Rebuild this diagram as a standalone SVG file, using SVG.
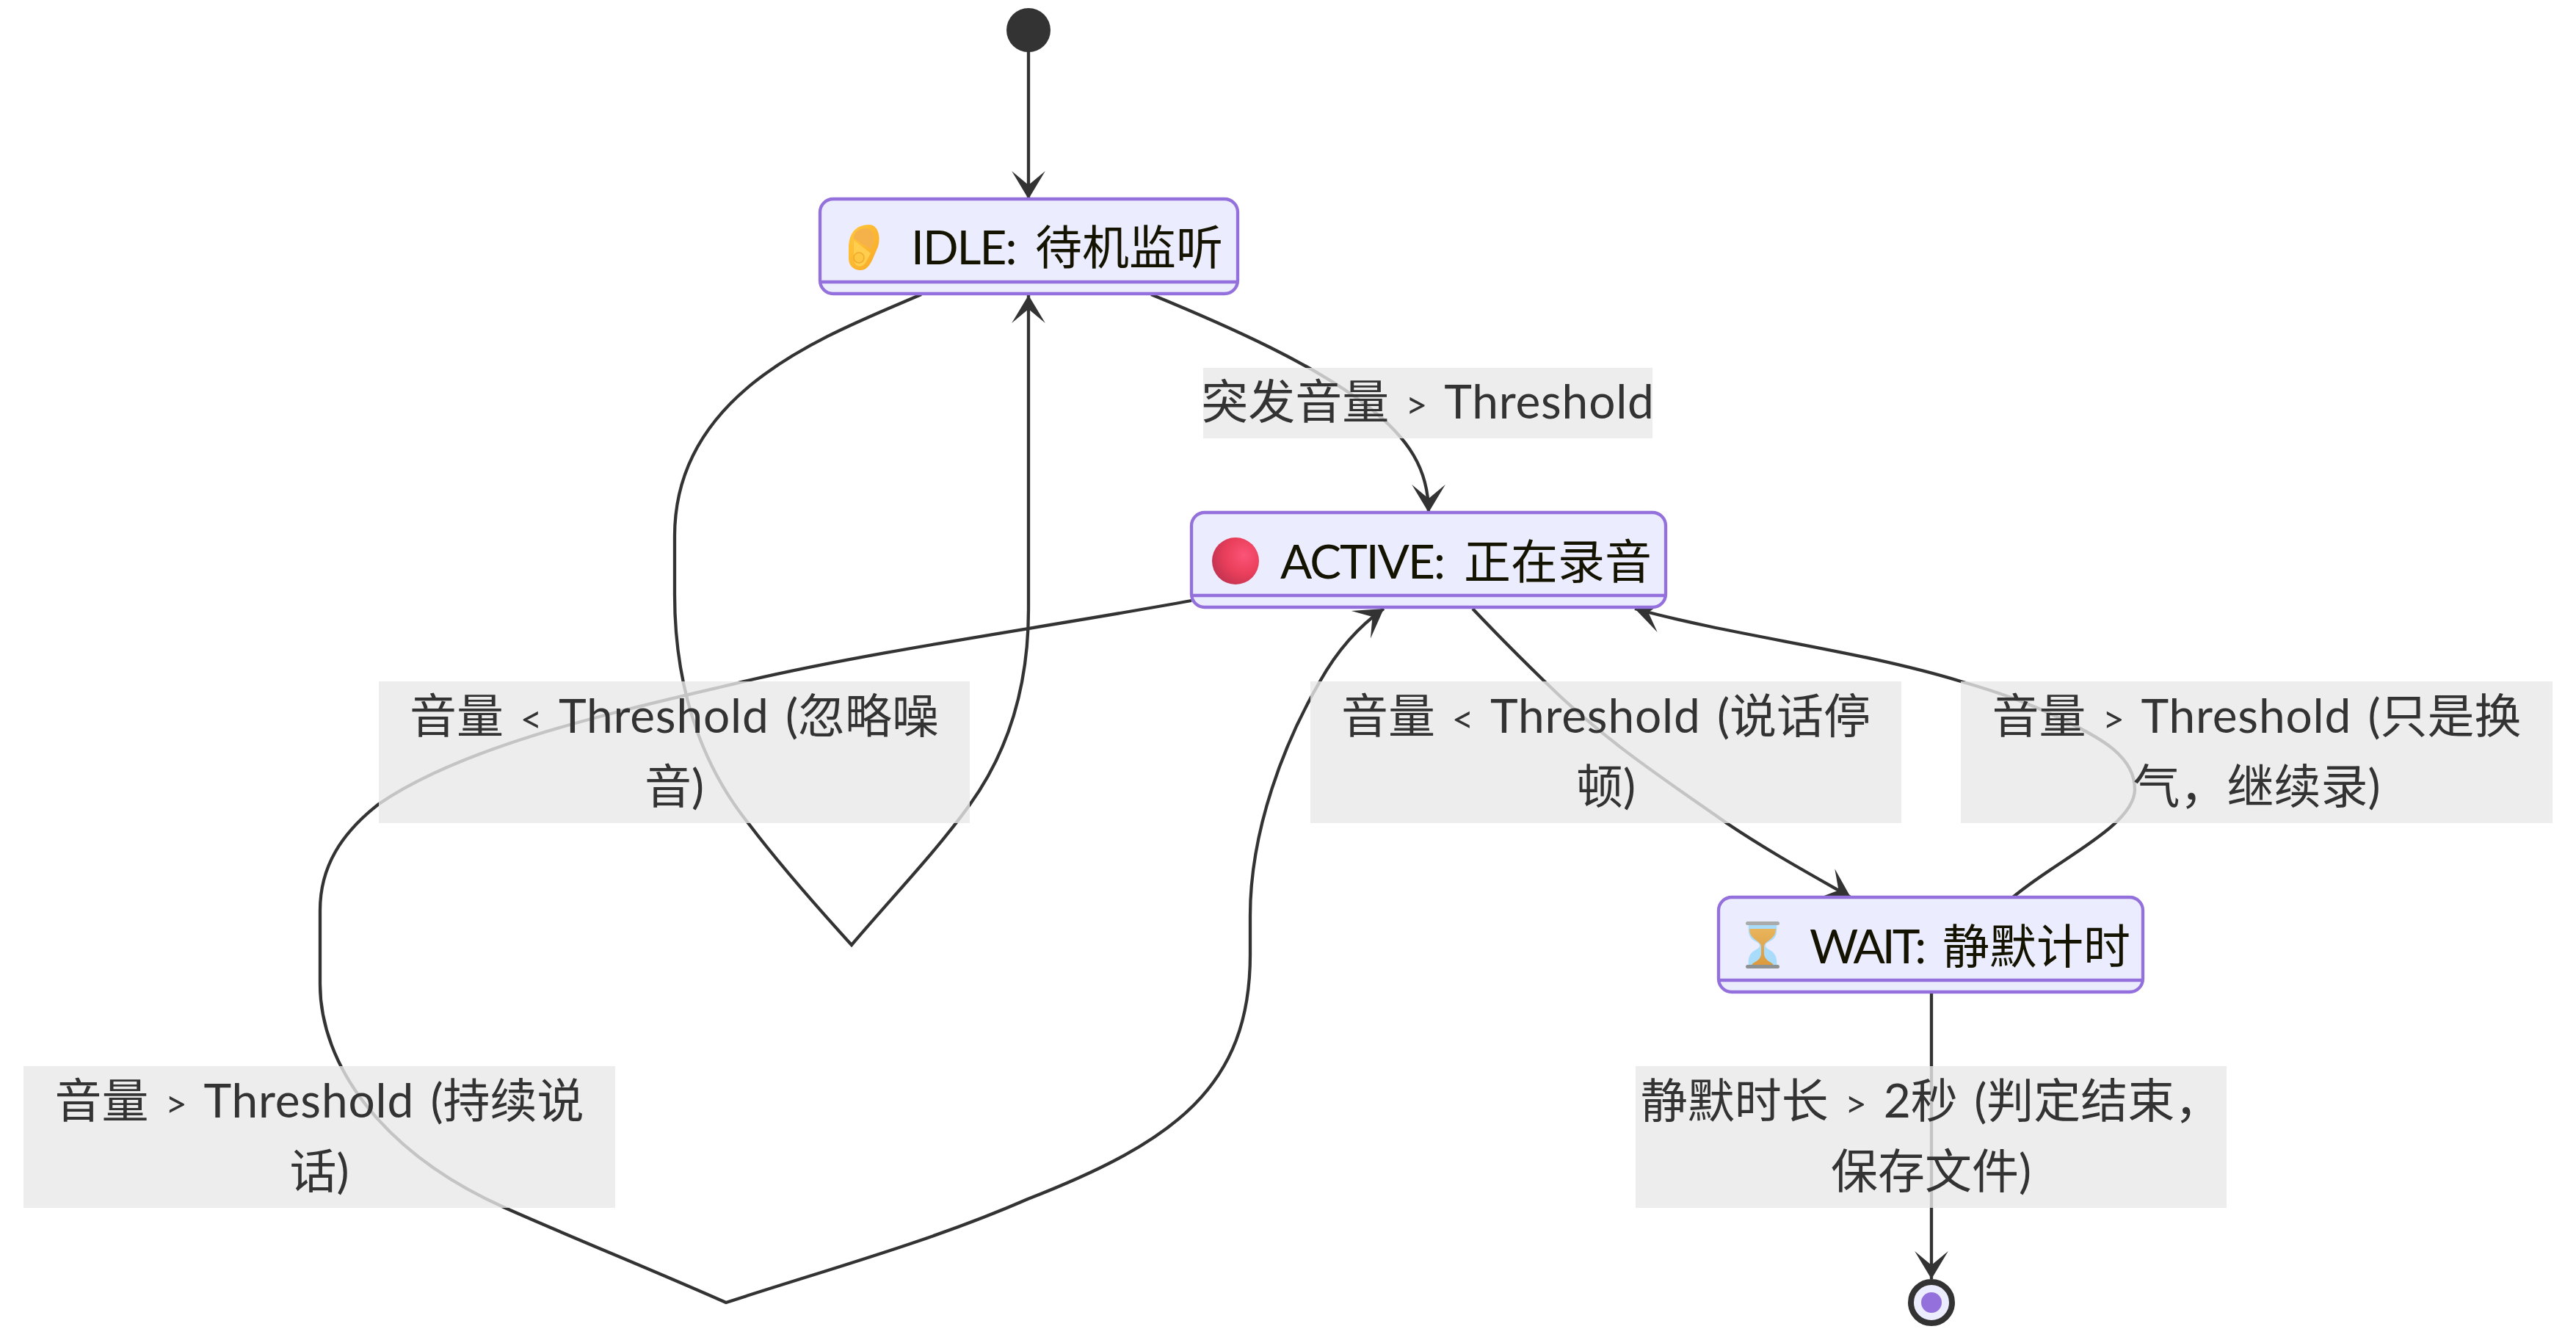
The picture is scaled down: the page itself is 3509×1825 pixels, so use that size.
<svg xmlns="http://www.w3.org/2000/svg" width="3509" height="1825" viewBox="0 0 3509 1825">
<style>
.edge{fill:none;stroke:#333;stroke-width:4.3;stroke-linejoin:miter;marker-end:url(#barb)}
.box{fill:#ECECFF;stroke:#9370DB;stroke-width:4.3}
.div{fill:none;stroke:#9370DB;stroke-width:4.3}
.bg{fill:#e8e8e8;fill-opacity:.8}
text{font-family:"Lato","Noto Sans CJK SC",sans-serif;font-size:64px}
.lt{fill:#333;text-anchor:middle;word-spacing:6px}
.nt{fill:#131300}
.op{font-size:52px}
.th{letter-spacing:.8px}
.n1{letter-spacing:-2px}
.n2{letter-spacing:-4px}
</style>
<defs>
<marker id="barb" viewBox="0 0 20 14" refX="19" refY="7" markerUnits="userSpaceOnUse" markerWidth="76" markerHeight="53.2" orient="auto"><path d="M19,7 L9,13 L14,7 L9,1 Z" fill="#333"/></marker>
<linearGradient id="ear" x1="0" y1="0" x2="1" y2="1"><stop offset="0" stop-color="#FFC83D"/><stop offset="1" stop-color="#F9A825"/></linearGradient>
<radialGradient id="ball" cx=".68" cy=".38" r=".72"><stop offset="0" stop-color="#FB5478"/><stop offset=".55" stop-color="#EA3F5B"/><stop offset="1" stop-color="#C23350"/></radialGradient>
<linearGradient id="sand" x1="0" y1="0" x2="0" y2="1"><stop offset="0" stop-color="#E8B45C"/><stop offset="1" stop-color="#DC9A3E"/></linearGradient>
</defs>
<g id="connectors">
<path class="edge" d="M1401,70 L1401,271"/>
<path class="edge" d="M1568,401 C1680,447 1790,497 1860,551 C1920,597 1946,640 1946,698"/>
<path class="edge" d="M1255,401 C1130,455 919,530 919,730 L919,810 C919,960 970,1060 1020,1122 C1060,1175 1110,1232 1160,1287 C1215,1222 1275,1160 1321,1096 C1365,1035 1401,950 1401,830 L1401,402"/>
<path class="edge" d="M1623,818 C1420,855 1200,885 1018,927 C860,965 640,1010 516,1095 C465,1135 436,1180 436,1240 L436,1340 C436,1450 520,1570 688,1645 C785,1688 890,1730 989,1774 C1130,1728 1270,1690 1400,1633 C1600,1555 1703,1480 1703,1300 L1703,1247 C1703,1130 1750,1010 1798,928 C1825,880 1855,850 1885,829"/>
<path class="edge" d="M2006,829 C2040,865 2070,895 2104,928 C2185,1008 2265,1060 2352,1121 C2410,1160 2465,1190 2521,1222"/>
<path class="edge" d="M2742,1222 C2800,1172 2908,1125 2908,1075 C2908,1030 2860,1005 2820,985 C2770,960 2730,945 2671,928 C2530,885 2370,868 2227,829"/>
<path class="edge" d="M2631,1351 L2631,1742"/>
</g>
<g id="start"><circle cx="1401" cy="41" r="30" fill="#333"/></g>
<g id="idle">
<rect class="box" x="1117" y="271" width="569" height="129" rx="18"/>
<path class="div" d="M1117,384 L1686,384"/>
<path d="M1184,306 C1164,306 1156,320 1156,338 L1156,352 C1156,362 1163,368 1172,368 C1180,368 1185,362 1190,350 L1196,336 C1200,322 1196,306 1184,306 Z" fill="url(#ear)"/>
<path d="M1163,325 C1163,314 1172,311 1180,311 C1189,311 1191,320 1190,328 L1187,340 Z" fill="#F6B24A"/>
<path d="M1163,327 L1186,345 L1180,356 C1177,362 1172,364 1168,362 C1164,360 1163,356 1163,350 Z" fill="#FFCE4F"/>
<circle cx="1170" cy="351" r="7" fill="#FDC744" stroke="#F0A92A" stroke-width="1.5"/>
<text class="nt" y="360"><tspan class="n1" x="1241">IDLE: </tspan><tspan x="1410">待机监听</tspan></text>
</g>
<g id="active">
<rect class="box" x="1623" y="698" width="646" height="129" rx="18"/>
<path class="div" d="M1623,811 L2269,811"/>
<circle cx="1683" cy="764" r="32" fill="url(#ball)"/>
<text class="nt" y="788"><tspan class="n1" x="1744">ACTIVE: </tspan><tspan x="1994">正在录音</tspan></text>
</g>
<g id="wait">
<rect class="box" x="2341" y="1222" width="578" height="129" rx="18"/>
<path class="div" d="M2341,1335 L2919,1335"/>
<path d="M2382,1260 L2420,1260 C2423,1285 2405,1280 2405,1288 C2405,1295 2423,1292 2420,1316 L2382,1316 C2379,1292 2397,1295 2397,1288 C2397,1280 2379,1285 2382,1260 Z" fill="#A9DCFB"/>
<path d="M2383,1265 L2419,1265 C2419,1280 2405,1280 2403,1288 L2403,1300 C2405,1310 2415,1310 2416,1315 L2386,1315 C2387,1310 2397,1310 2399,1300 L2399,1288 C2397,1280 2383,1280 2383,1265 Z" fill="url(#sand)"/>
<rect x="2378" y="1255" width="46" height="5" rx="2.5" fill="#A9ABAB"/>
<rect x="2378" y="1314" width="46" height="5" rx="2.5" fill="#8E9192"/>
<text class="nt" y="1312"><tspan class="n2" x="2465">WAIT: </tspan><tspan x="2646">静默计时</tspan></text>
</g>
<g id="end"><circle cx="2631" cy="1774" r="28" fill="#ECECFF" stroke="#333" stroke-width="8"/><circle cx="2631" cy="1774" r="14" fill="#9370DB"/></g>
<g id="label-trigger"><rect class="bg" x="1639" y="501" width="612" height="96"/><text class="lt" x="1945" y="570">突发音量 <tspan class="op">&gt;</tspan> <tspan class="th">Threshold</tspan></text></g>
<g id="label-noise"><rect class="bg" x="516" y="928" width="805" height="193"/><text class="lt" x="918.5" y="998">音量 <tspan class="op">&lt;</tspan> <tspan class="th">Threshold</tspan> (忽略噪</text><text class="lt" x="918.5" y="1094">音)</text></g>
<g id="label-keep"><rect class="bg" x="32" y="1452" width="806" height="193"/><text class="lt" x="435" y="1522">音量 <tspan class="op">&gt;</tspan> <tspan class="th">Threshold</tspan> (持续说</text><text class="lt" x="435" y="1618">话)</text></g>
<g id="label-pause"><rect class="bg" x="1785" y="928" width="805" height="193"/><text class="lt" x="2187.5" y="998">音量 <tspan class="op">&lt;</tspan> <tspan class="th">Threshold</tspan> (说话停</text><text class="lt" x="2187.5" y="1094">顿)</text></g>
<g id="label-breath"><rect class="bg" x="2671" y="928" width="806" height="193"/><text class="lt" x="3074" y="998">音量 <tspan class="op">&gt;</tspan> <tspan class="th">Threshold</tspan> (只是换</text><text class="lt" x="3074" y="1094">气，继续录)</text></g>
<g id="label-finish"><rect class="bg" x="2228" y="1452" width="805" height="193"/><text class="lt" x="2630.5" y="1522">静默时长 <tspan class="op">&gt;</tspan> 2秒 (判定结束，</text><text class="lt" x="2630.5" y="1618">保存文件)</text></g>
</svg>
